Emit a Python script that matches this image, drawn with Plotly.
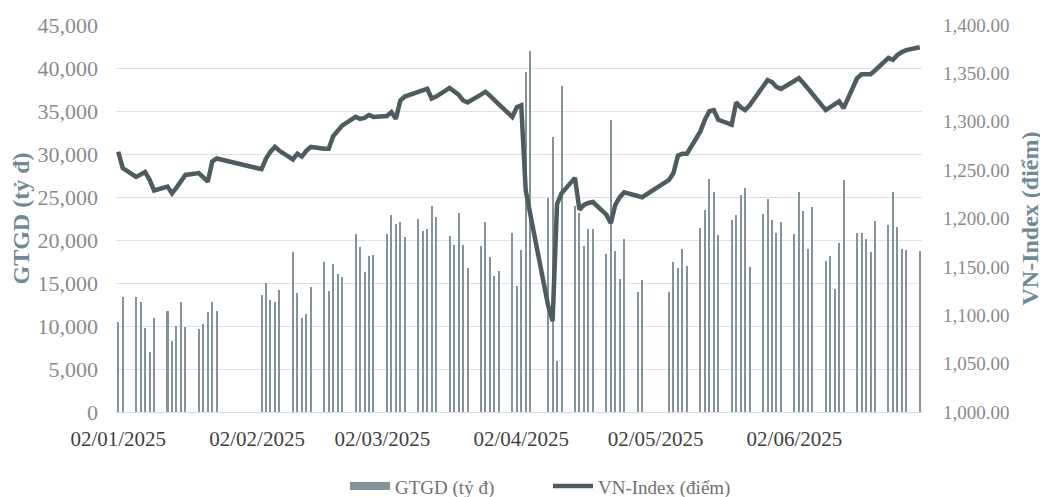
import plotly.graph_objects as go

# Trading days (dd/mm/yyyy -> ISO)
dates_jan = ["2025-01-02", "2025-01-03", "2025-01-06", "2025-01-07", "2025-01-08", "2025-01-09", "2025-01-10",
             "2025-01-13", "2025-01-14", "2025-01-15", "2025-01-16", "2025-01-17",
             "2025-01-20", "2025-01-21", "2025-01-22", "2025-01-23", "2025-01-24"]
dates_feb = ["2025-02-03", "2025-02-04", "2025-02-05", "2025-02-06", "2025-02-07",
             "2025-02-10", "2025-02-11", "2025-02-12", "2025-02-13", "2025-02-14",
             "2025-02-17", "2025-02-18", "2025-02-19", "2025-02-20", "2025-02-21",
             "2025-02-24", "2025-02-25", "2025-02-26", "2025-02-27", "2025-02-28"]
dates_mar = ["2025-03-03", "2025-03-04", "2025-03-05", "2025-03-06", "2025-03-07",
             "2025-03-10", "2025-03-11", "2025-03-12", "2025-03-13", "2025-03-14",
             "2025-03-17", "2025-03-18", "2025-03-19", "2025-03-20", "2025-03-21",
             "2025-03-24", "2025-03-25", "2025-03-26", "2025-03-27", "2025-03-28", "2025-03-31"]
dates_apr = ["2025-04-01", "2025-04-02", "2025-04-03", "2025-04-04",
             "2025-04-08", "2025-04-09", "2025-04-10", "2025-04-11",
             "2025-04-14", "2025-04-15", "2025-04-16", "2025-04-17", "2025-04-18",
             "2025-04-21", "2025-04-22", "2025-04-23", "2025-04-24", "2025-04-25",
             "2025-04-28", "2025-04-29"]
dates_may = ["2025-05-05", "2025-05-06", "2025-05-07", "2025-05-08", "2025-05-09",
             "2025-05-12", "2025-05-13", "2025-05-14", "2025-05-15", "2025-05-16",
             "2025-05-19", "2025-05-20", "2025-05-21", "2025-05-22", "2025-05-23",
             "2025-05-26", "2025-05-27", "2025-05-28", "2025-05-29", "2025-05-30"]
dates_jun = ["2025-06-02", "2025-06-03", "2025-06-04", "2025-06-05", "2025-06-06",
             "2025-06-09", "2025-06-10", "2025-06-11", "2025-06-12", "2025-06-13",
             "2025-06-16", "2025-06-17", "2025-06-18", "2025-06-19", "2025-06-20",
             "2025-06-23", "2025-06-24", "2025-06-25", "2025-06-26", "2025-06-27", "2025-06-30"]

# GTGD (tỷ đ) - trading value
gtgd_jan = [10500, 13400, 13400, 12800, 9800, 7000, 10900, 11700, 8300, 10000, 12800, 9900,
            9600, 10200, 11600, 12800, 11800]
gtgd_feb = [13600, 15000, 13000, 12800, 14200, 18600, 13800, 10900, 11400, 14500,
            17400, 14100, 17200, 16000, 15700, 20700, 19200, 16300, 18100, 18300]
gtgd_mar = [20700, 22900, 21900, 22100, 20400, 22400, 21000, 21300, 23900, 22700,
            20500, 19400, 23100, 19400, 16800, 19300, 22100, 18000, 15800, 16400, 20800]
gtgd_apr = [14700, 18800, 39500, 42000, 24900, 32000, 5900, 37900, 24000, 23100,
            19300, 21300, 21300, 18400, 34000, 18700, 15500, 20100, 14000, 15300]
gtgd_may = [14000, 17500, 16800, 18900, 17000, 21400, 23500, 27100, 25600, 20600,
            22300, 22900, 25200, 26100, 16900, 23000, 24800, 22300, 20800, 22100]
gtgd_jun = [20700, 25600, 23400, 18900, 23800, 17600, 18100, 14300, 19600, 27000,
            20800, 20800, 20100, 18600, 22200, 21700, 25600, 21500, 18900, 18800, 18700]

# VN-Index (điểm)
vni_jan = [1269, 1252, 1243, 1246, 1248, 1240, 1229, 1233, 1226, 1232, 1238, 1245,
           1247, 1243, 1238, 1259, 1262]
vni_feb = [1251, 1262, 1269, 1274, 1270, 1261, 1267, 1264, 1270, 1274,
           1272, 1272, 1285, 1291, 1296, 1305, 1303, 1304, 1307, 1305]
vni_mar = [1306, 1310, 1303, 1322, 1326, 1331, 1333, 1334, 1324, 1326,
           1335, 1331, 1328, 1322, 1320, 1328, 1331, 1327, 1323, 1318, 1305]
vni_apr = [1315, 1317, 1229, 1205, 1110, 1094, 1215, 1226, 1242, 1209,
           1214, 1216, 1217, 1204, 1195, 1214, 1222, 1227, 1223, 1222]
vni_may = [1240, 1247, 1265, 1267, 1267, 1290, 1302, 1311, 1312, 1302,
           1297, 1320, 1315, 1312, 1317, 1338, 1343, 1341, 1336, 1334]
vni_jun = [1343, 1345, 1340, 1335, 1329, 1312, 1315, 1318, 1321, 1314,
           1345, 1349, 1349, 1349, 1353, 1366, 1364, 1369, 1372, 1374, 1377]

tick_dates = ["2025-01-02", "2025-02-02", "2025-03-02", "2025-04-02", "2025-05-02", "2025-06-02"]
tick_labels = ["02/01/2025", "02/02/2025", "02/03/2025", "02/04/2025", "02/05/2025", "02/06/2025"]

dates = dates_jan + dates_feb + dates_mar + dates_apr + dates_may + dates_jun
gtgd = gtgd_jan + gtgd_feb + gtgd_mar + gtgd_apr + gtgd_may + gtgd_jun
vni = vni_jan + vni_feb + vni_mar + vni_apr + vni_may + vni_jun

SERIF = "Liberation Serif, Times New Roman, serif"
DAY_MS = 86400000
BAR_COLOR = "#84939a"
LINE_COLOR = "#4e5c5f"
TITLE_COLOR = "#6f8a95"

fig = go.Figure()
fig.add_trace(go.Bar(
    x=dates, y=gtgd, name="GTGD (tỷ đ)",
    marker=dict(color=BAR_COLOR, line=dict(width=0)),
    width=[0.45 * DAY_MS] * len(dates),
    yaxis="y", legendgroup="gtgd", showlegend=False,
))
# legend entry for the bars drawn as a wide flat swatch (like the original)
fig.add_trace(go.Scatter(
    x=[None], y=[None], name="GTGD (tỷ đ)", mode="lines",
    line=dict(color=BAR_COLOR, width=8), legendgroup="gtgd", showlegend=True,
))
fig.add_trace(go.Scatter(
    x=dates, y=vni, name="VN-Index (điểm)", mode="lines",
    line=dict(color=LINE_COLOR, width=4.5),
    yaxis="y2",
))

# page body has an 8px margin, so the figure is 8px smaller and shifted
fig.update_layout(
    width=1040, height=489,
    margin=dict(l=108, r=126, t=17, b=85),
    paper_bgcolor="white", plot_bgcolor="white",
    font=dict(family=SERIF, size=20, color="#7f7f7f"),
    bargap=0,
    showlegend=True,
    legend=dict(orientation="h", x=0.536, xanchor="center",
                yref="container", y=0.022, yanchor="middle",
                font=dict(family=SERIF, size=19, color="#707070"),
                entrywidth=148, entrywidthmode="pixels",
                itemwidth=40, traceorder="normal"),
    xaxis=dict(
        type="date", automargin=False,
        range=["2025-01-01 12:00", "2025-06-30 12:00"],
        tickvals=tick_dates, ticktext=tick_labels,
        tickfont=dict(family=SERIF, size=21, color="#3f3f3f"),
        showgrid=False, showline=True, linecolor="#d9d9d9", linewidth=1,
        ticks="", ticklabelstandoff=8, zeroline=False,
    ),
    yaxis=dict(
        range=[0, 45000], dtick=5000, tickformat=",d", automargin=False,
        tickfont=dict(family=SERIF, size=22, color="#8a8a8a"),
        showgrid=True, gridcolor="#e0e0e0", gridwidth=1, zeroline=False,
        ticks="", ticklabelstandoff=17,
        title=dict(text="<b>GTGD (tỷ đ)</b>", font=dict(family=SERIF, size=24, color=TITLE_COLOR),
                   standoff=2),
    ),
    yaxis2=dict(
        range=[1000, 1400], dtick=50, tickformat=",.2f", automargin=False,
        overlaying="y", side="right",
        tickfont=dict(family=SERIF, size=19, color="#8a8a8a"),
        showgrid=False, zeroline=False, ticks="", ticklabelstandoff=20,
        title=dict(text="<b>VN-Index (điểm)</b>", font=dict(family=SERIF, size=24, color=TITLE_COLOR),
                   standoff=12),
    ),
)

fig.write_html("out.html")
